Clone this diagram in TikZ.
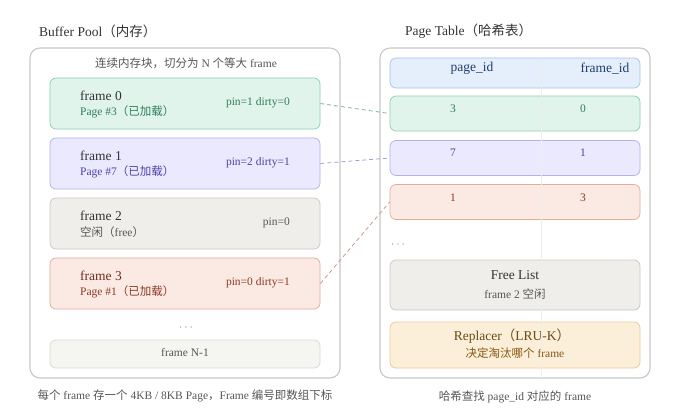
\documentclass[tikz,border=0pt]{standalone}
\usepackage{fontspec}
\setmainfont{Liberation Serif}
\newfontfamily\cjk{Noto Sans CJK SC}
\newcommand{\zh}[1]{{\cjk #1}}
\usetikzlibrary{positioning,calc}
\definecolor{bpInk}{HTML}{333333}
\definecolor{bpSoft}{HTML}{555555}
\definecolor{bpPlate}{HTML}{C8C8C8}
\definecolor{bpGreen}{HTML}{2E7D5A}
\definecolor{bpGreenFill}{HTML}{E1F4EC}
\definecolor{bpGreenLine}{HTML}{8ACFB2}
\definecolor{bpViolet}{HTML}{4B43A8}
\definecolor{bpVioletFill}{HTML}{EBE9FD}
\definecolor{bpVioletLine}{HTML}{B5AEF0}
\definecolor{bpGrey}{HTML}{555555}
\definecolor{bpGreyFill}{HTML}{EFEEEA}
\definecolor{bpGreyLine}{HTML}{C9C7C0}
\definecolor{bpRed}{HTML}{8B3A26}
\definecolor{bpRedFill}{HTML}{FBE9E3}
\definecolor{bpRedLine}{HTML}{E4AB9A}
\definecolor{bpBlue}{HTML}{1F3D6B}
\definecolor{bpBlueFill}{HTML}{E4EFFB}
\definecolor{bpBlueLine}{HTML}{A7C4EA}
\definecolor{bpGold}{HTML}{6B4A15}
\definecolor{bpGoldFill}{HTML}{FCEFDA}
\definecolor{bpGoldLine}{HTML}{ECC894}
\tikzset{
  plate/.style={draw=bpPlate, rounded corners=10pt, fill=white, line width=1.1pt, inner sep=0pt},
  slot/.style={rounded corners=6pt, line width=0.7pt, inner sep=0pt, minimum width=270pt, minimum height=51pt},
  cell/.style={rounded corners=6pt, line width=0.7pt, inner sep=0pt, minimum width=250pt},
  greenbox/.style={draw=bpGreenLine, fill=bpGreenFill},
  violetbox/.style={draw=bpVioletLine, fill=bpVioletFill},
  greybox/.style={draw=bpGreyLine, fill=bpGreyFill},
  redbox/.style={draw=bpRedLine, fill=bpRedFill},
  bluebox/.style={draw=bpBlueLine, fill=bpBlueFill},
  goldbox/.style={draw=bpGoldLine, fill=bpGoldFill},
  ttl/.style={font=\fontsize{13.5}{16}\selectfont, text=bpInk, inner sep=0pt},
  big/.style={font=\fontsize{13.5}{16}\selectfont, inner sep=0pt},
  small/.style={font=\fontsize{11.5}{14}\selectfont, inner sep=0pt},
  note/.style={font=\fontsize{11.5}{14}\selectfont, text=bpSoft, inner sep=0pt},
  link/.style={dashed, dash pattern=on 4pt off 3pt, line width=0.8pt}
}
\begin{document}
\begin{tikzpicture}[x=1pt,y=-1pt]
  \useasboundingbox (0,0) rectangle (680,420);
  % buffer pool
  \node[ttl, anchor=west] (bpTitle) at (39,31) {Buffer Pool\zh{（内存）}};
  \node[plate, minimum width=310pt, minimum height=330pt] (bp) at (185,213) {};
  \node[note] (bpSub) at (186,63) {\zh{连续内存块，切分为} N \zh{个等大} frame};
  \node[slot, greenbox] (f0) at (185,103.5) {};
  \node[big, text=bpInk, anchor=west] at (80,95.5) {frame 0};
  \node[small, text=bpGreen, anchor=west] at (80,112) {Page \#3\zh{（已加载）}};
  \node[small, text=bpGreen, anchor=east] at (290,103) {pin=1 dirty=0};
  \node[slot, violetbox] (f1) at (185,163.5) {};
  \node[big, text=bpInk, anchor=west] at (80,155.5) {frame 1};
  \node[small, text=bpViolet, anchor=west] at (80,172) {Page \#7\zh{（已加载）}};
  \node[small, text=bpViolet, anchor=east] at (290,163) {pin=2 dirty=1};
  \node[slot, greybox] (f2) at (185,223.5) {};
  \node[big, text=bpInk, anchor=west] at (80,215.5) {frame 2};
  \node[small, text=bpGrey, anchor=west] at (80,232) {\zh{空闲（}free\zh{）}};
  \node[small, text=bpGrey, anchor=east] at (290,223) {pin=0};
  \node[slot, redbox] (f3) at (185,283.5) {};
  \node[big, text=bpRed!80!black, anchor=west] at (80,275.5) {frame 3};
  \node[small, text=bpRed, anchor=west] at (80,292) {Page \#1\zh{（已加载）}};
  \node[small, text=bpRed, anchor=east] at (290,283) {pin=0 dirty=1};
  \node[note, text=bpPlate!70!black] (bpDots) at (186,328) {$\cdot$\,$\cdot$\,$\cdot$};
  \node[slot, draw=bpGreyLine!70, fill=bpGreyFill!60, minimum height=28pt] (fN) at (185,354) {};
  \node[small, text=bpGrey] at (185,353) {frame N-1};
  \node[note] (bpCap) at (185,396) {\zh{每个} frame \zh{存一个} 4KB / 8KB Page\zh{，}Frame \zh{编号即数组下标}};
  % page table
  \node[ttl, anchor=west] (ptTitle) at (405,31) {Page Table\zh{（哈希表）}};
  \node[plate, minimum width=270pt, minimum height=330pt] (pt) at (515,213) {};
  \node[cell, bluebox, minimum height=30pt] (hd) at (515,73) {};
  \node[big, text=bpBlue] at (472,68.5) {page\_id};
  \node[big, text=bpBlue] at (605,68.5) {frame\_id};
  \node[cell, greenbox, minimum height=35pt] (r3) at (515,113.5) {};
  \node[small, text=bpGreen] at (453,109) {3};
  \node[small, text=bpGreen] at (583,109) {0};
  \node[cell, violetbox, minimum height=35pt] (r7) at (515,158) {};
  \node[small, text=bpViolet] at (453,153) {7};
  \node[small, text=bpViolet] at (583,153) {1};
  \node[cell, redbox, minimum height=35pt] (r1) at (515,202) {};
  \node[small, text=bpRed] at (453,198) {1};
  \node[small, text=bpRed] at (583,198) {3};
  \node[note, text=bpPlate!70!black] (ptDots) at (398,245) {$\cdot$\,$\cdot$\,$\cdot$};
  \node[cell, greybox, minimum height=50pt] (free) at (515,285) {};
  \node[big, text=bpInk] at (515,275) {Free List};
  \node[small, text=bpGrey] at (515,294) {frame 2 \zh{空闲}};
  \node[cell, goldbox, minimum height=46pt] (lru) at (515,345) {};
  \node[big, text=bpGold] at (512,336) {Replacer\zh{（}LRU-K\zh{）}};
  \node[small, text=bpGold!80!orange] at (515,353) {\zh{决定淘汰哪个} frame};
  \node[note] (ptCap) at (515,397) {\zh{哈希查找} page\_id \zh{对应的} frame};
  \draw[black!7, line width=0.8pt] (541,58) -- (541,378);
  % links
  \draw[link, draw=bpGreenLine!90!black] (f0.east) -- (r3.west);
  \draw[link, draw=bpVioletLine!90!black] (f1.east) -- (r7.west);
  \draw[link, draw=bpRedLine!90!black] (f3.east) -- (r1.west);
\end{tikzpicture}
\end{document}
